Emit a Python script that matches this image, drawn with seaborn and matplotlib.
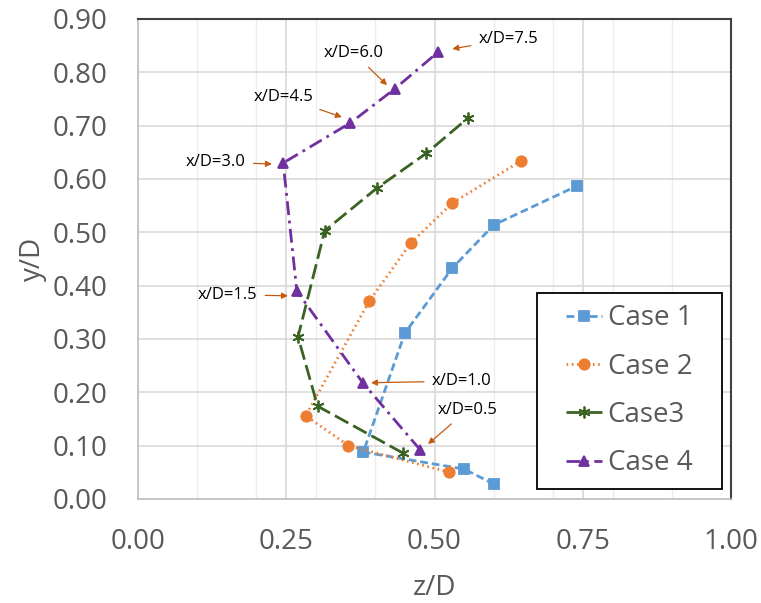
import matplotlib
matplotlib.use("Agg")
import matplotlib.pyplot as plt
import matplotlib.ticker as mticker
from matplotlib.patches import Rectangle
import pandas as pd
import seaborn as sb

# data (z/D, y/D), in the order the curves are drawn
case1_z = [0.60, 0.55, 0.38, 0.45, 0.53, 0.60, 0.74]
case1_y = [0.028, 0.056, 0.088, 0.311, 0.433, 0.514, 0.587]
case2_z = [0.525, 0.355, 0.283, 0.39, 0.46, 0.53, 0.646]
case2_y = [0.05, 0.10, 0.156, 0.371, 0.48, 0.555, 0.634]
case3_z = [0.447, 0.303, 0.27, 0.315, 0.403, 0.486, 0.556]
case3_y = [0.086, 0.174, 0.304, 0.503, 0.583, 0.648, 0.714]
case4_z = [0.476, 0.379, 0.268, 0.245, 0.358, 0.433, 0.506]
case4_y = [0.092, 0.218, 0.390, 0.630, 0.705, 0.769, 0.838]
cases = ["Case 1", "Case 2", "Case3", "Case 4"]

# x/D labels for the Case 4 points
xd_labels = ["x/D=0.5", "x/D=1.0", "x/D=1.5", "x/D=3.0", "x/D=4.5", "x/D=6.0", "x/D=7.5"]
label_pos = [(0.556, 0.167), (0.545, 0.221), (0.152, 0.383), (0.132, 0.632),
             (0.245, 0.754), (0.364, 0.836), (0.624, 0.862)]
arrow_to = [(0.489, 0.103), (0.393, 0.218), (0.253, 0.381), (0.226, 0.628),
            (0.344, 0.716), (0.420, 0.776), (0.530, 0.844)]

sb.set_style("white")
plt.rcParams["font.family"] = ["Open Sans", "DejaVu Sans"]

colors = ["#5B9BD5", "#ED7D31", "#3A6323", "#7030A0"]
markers = ["s", "o", (6, 2, 0), "^"]
dashes = [(2.8, 1.4), (0.6, 1.3), (5.5, 2), (5, 2, 1, 2)]
msizes = [7.2, 7.5, 8.5, 7.5]

fig = plt.figure(figsize=(7.61, 6.03), dpi=100)
ax = fig.add_axes([0.181, 0.1725, 0.78, 0.796])

all_z = [case1_z, case2_z, case3_z, case4_z]
all_y = [case1_y, case2_y, case3_y, case4_y]
for name, zs, ys, c, m, d, ms in zip(cases, all_z, all_y, colors, markers, dashes, msizes):
    df = pd.DataFrame({"z/D": zs, "y/D": ys})
    sb.lineplot(data=df, x="z/D", y="y/D", sort=False, estimator=None, color=c,
                marker=m, linestyle=(0, d), linewidth=2, markersize=ms,
                markeredgecolor=c, markeredgewidth=1.3, label=name, ax=ax)

# arrows with x/D labels
for txt, pos, tip in zip(xd_labels, label_pos, arrow_to):
    ax.annotate(txt, xy=tip, xytext=pos, fontsize=12, color="black",
                ha="center", va="center",
                arrowprops=dict(arrowstyle="-|>", color="#C55A11", lw=0.9,
                                mutation_scale=9, shrinkA=3, shrinkB=0))

ax.set_xlim(0, 1.0)
ax.set_ylim(0, 0.9)
ax.xaxis.set_major_locator(mticker.MultipleLocator(0.25))
ax.xaxis.set_minor_locator(mticker.MultipleLocator(0.1))
ax.yaxis.set_major_locator(mticker.MultipleLocator(0.1))
ax.xaxis.set_major_formatter(mticker.FormatStrFormatter("%.2f"))
ax.yaxis.set_major_formatter(mticker.FormatStrFormatter("%.2f"))
ax.grid(True, which="major", color="#D9D9D9", lw=1.2)
ax.grid(True, which="minor", axis="x", color="#EDEDED", lw=1.0)
ax.set_axisbelow(True)
ax.tick_params(which="both", length=0, labelsize=20, labelcolor="#595959")
ax.tick_params(axis="y", pad=22)
ax.tick_params(axis="x", pad=21)
ax.set_xlabel("z/D", fontsize=20, color="#595959", labelpad=13)
ax.set_ylabel("y/D", fontsize=20, color="#595959", labelpad=4)

for side in ["left", "bottom"]:
    ax.spines[side].set_color("#BFBFBF")
    ax.spines[side].set_linewidth(1.2)
for side in ["top", "right"]:
    ax.spines[side].set_visible(True)
    ax.spines[side].set_color("#404040")
    ax.spines[side].set_linewidth(1.5)

handles, labels = ax.get_legend_handles_labels()
leg = ax.legend(handles, labels, loc="lower center", bbox_to_anchor=(0.828, 0.021),
                fontsize=20, frameon=False, handlelength=1.3, handletextpad=0.2,
                labelspacing=0.73, borderpad=0.42, borderaxespad=0)
for t in leg.get_texts():
    t.set_color("#595959")

# wider box around the legend, like the reference frame
fig.canvas.draw()
bb = leg.get_window_extent().transformed(fig.transFigure.inverted())
extra = 0.5 * (185 / 761 - bb.width)
ax.add_patch(Rectangle((bb.x0 - extra, bb.y0), bb.width + 2 * extra, bb.height,
                       transform=fig.transFigure, facecolor="white", edgecolor="black",
                       lw=1.3, zorder=4.9))

fig.savefig("out.png", dpi=100)
